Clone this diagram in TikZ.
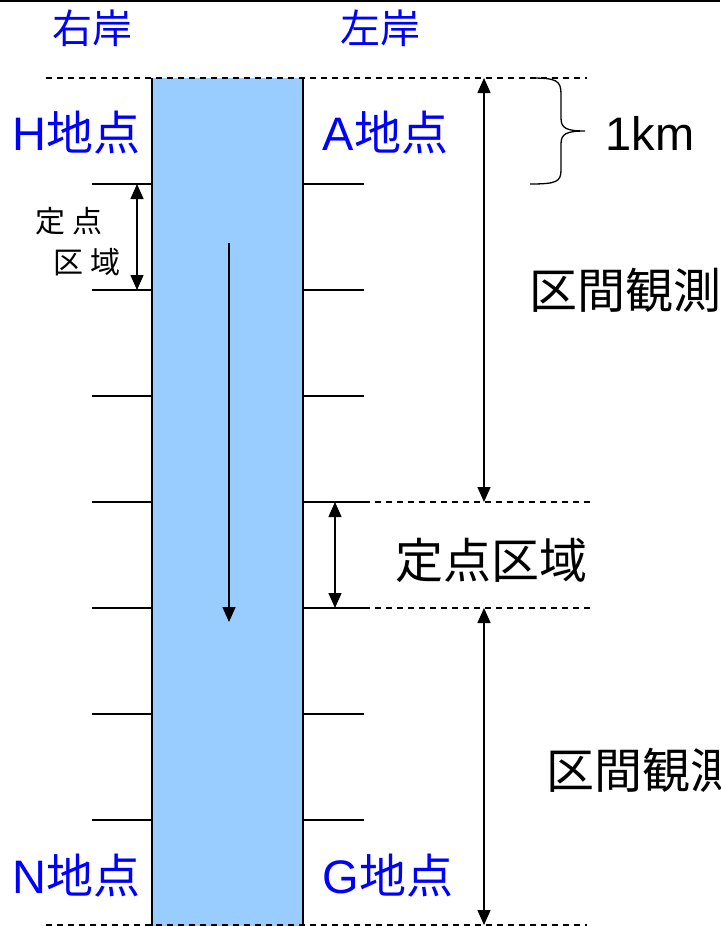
\documentclass[tikz,border=0pt]{standalone}
\usepackage{fontspec}
\setmainfont{Liberation Sans}
\newfontfamily\jp{Noto Sans CJK JP}
\usetikzlibrary{arrows.meta}
\definecolor{riverblue}{RGB}{153,204,255}
\tikzset{
  bluetext/.style={text=blue,inner sep=0pt,anchor=west,font=\fontsize{47}{47}\selectfont},
  banktext/.style={text=blue,inner sep=0pt,font=\jp\fontsize{40}{40}\selectfont},
  bigtext/.style={inner sep=0pt,anchor=west,font=\jp\fontsize{48}{48}\selectfont},
  smalltext/.style={inner sep=0pt,anchor=west,font=\jp\fontsize{30}{30}\selectfont},
  guide/.style={dash pattern=on 6pt off 5pt},
  span/.style={{Triangle[length=15pt,width=13pt]}-{Triangle[length=15pt,width=13pt]}},
  flow/.style={-{Triangle[length=15pt,width=13pt]}}
}
\begin{document}
\begin{tikzpicture}[x=1pt,y=-1pt,line width=1.5pt]
  \clip (0,0) rectangle (720,926);
  % river
  \fill[riverblue] (152,78) rectangle (303,926);
  \draw
    (152,78) coordinate (L0)
    (152,184) coordinate (L1)
    (152,290) coordinate (L2)
    (152,396) coordinate (L3)
    (152,502) coordinate (L4)
    (152,608) coordinate (L5)
    (152,714) coordinate (L6)
    (152,820) coordinate (L7)
    (152,926) coordinate (L8)
    (92,184) coordinate (l1)
    (92,290) coordinate (l2)
    (92,396) coordinate (l3)
    (92,502) coordinate (l4)
    (92,608) coordinate (l5)
    (92,714) coordinate (l6)
    (92,820) coordinate (l7);
  \draw
    (303,78) coordinate (R0)
    (303,184) coordinate (R1)
    (303,290) coordinate (R2)
    (303,396) coordinate (R3)
    (303,502) coordinate (R4)
    (303,608) coordinate (R5)
    (303,714) coordinate (R6)
    (303,820) coordinate (R7)
    (303,926) coordinate (R8)
    (364,184) coordinate (r1)
    (364,290) coordinate (r2)
    (364,396) coordinate (r3)
    (364,502) coordinate (r4)
    (364,608) coordinate (r5)
    (364,714) coordinate (r6)
    (364,820) coordinate (r7);
  \draw (L0) to (L8);
  \draw (R0) to (R8);
  % kilometre posts
  \draw (l1) to (L1);
  \draw (l2) to (L2);
  \draw (l3) to (L3);
  \draw (l4) to (L4);
  \draw (l5) to (L5);
  \draw (l6) to (L6);
  \draw (l7) to (L7);
  \draw (R1) to (r1);
  \draw (R2) to (r2);
  \draw (R3) to (r3);
  \draw (R4) to (r4);
  \draw (R5) to (r5);
  \draw (R6) to (r6);
  \draw (R7) to (r7);
  % frame line and guides
  \coordinate (tl) at (0,1);
  \coordinate (tr) at (720,1);
  \draw[line width=2pt] (tl) to (tr);
  \coordinate (g0a) at (46,78);
  \coordinate (g0b) at (587,78);
  \coordinate (g4b) at (592,502);
  \coordinate (g5b) at (592,608);
  \coordinate (g8a) at (46,925);
  \coordinate (g8b) at (587,925);
  \draw[guide] (g0a) to (g0b);
  \draw[guide] (r4) to (g4b);
  \draw[guide] (r5) to (g5b);
  \draw[guide] (g8a) to (g8b);
  % dimension arrows
  \coordinate (m0) at (484,78);
  \coordinate (m4) at (484,502);
  \coordinate (m5) at (484,608);
  \coordinate (m8) at (484,925);
  \coordinate (f4) at (335,502);
  \coordinate (f5) at (335,608);
  \coordinate (h1) at (137,184);
  \coordinate (h2) at (137,290);
  \coordinate (c1) at (229,243);
  \coordinate (c2) at (229,622);
  \draw[span] (m0) to (m4);
  \draw[span] (m5) to (m8);
  \draw[span] (f4) to (f5);
  \draw[span] (h1) to (h2);
  \draw[flow] (c1) to (c2);
  % brace
  \coordinate (b0) at (530,78);
  \coordinate (bt) at (585,131);
  \coordinate (b1) at (530,184);
  \draw[line width=1.3pt] (b0) .. controls (556,78) and (561,80) .. (561,94)
    -- (561,118) .. controls (561,128) and (566,131) .. (bt)
    .. controls (566,131) and (561,134) .. (561,144)
    -- (561,170) .. controls (561,182) and (556,184) .. (b1);
  % labels
  \node[banktext] (right) at (92,28) {右岸};
  \node[banktext] (left) at (380,28) {左岸};
  \node[bluetext] (H) at (12,133) {H{\jp 地点}};
  \node[bluetext] (A) at (322,133) {A{\jp 地点}};
  \node[bluetext] (N) at (12,876) {N{\jp 地点}};
  \node[bluetext] (G) at (322,876) {G{\jp 地点}};
  \node[bluetext,text=black] (km) at (605,133) {1km};
  \node[bigtext] (sec1) at (529,290) {区間観測};
  \node[bigtext] (fix) at (395,560) {定点区域};
  \node[bigtext] (sec2) at (546,770) {区間観測};
  \node[smalltext] (fixa) at (35,221) {定\hspace{7pt}点};
  \node[smalltext] (fixb) at (53,262) {区\hspace{7pt}域};
\end{tikzpicture}
\end{document}
